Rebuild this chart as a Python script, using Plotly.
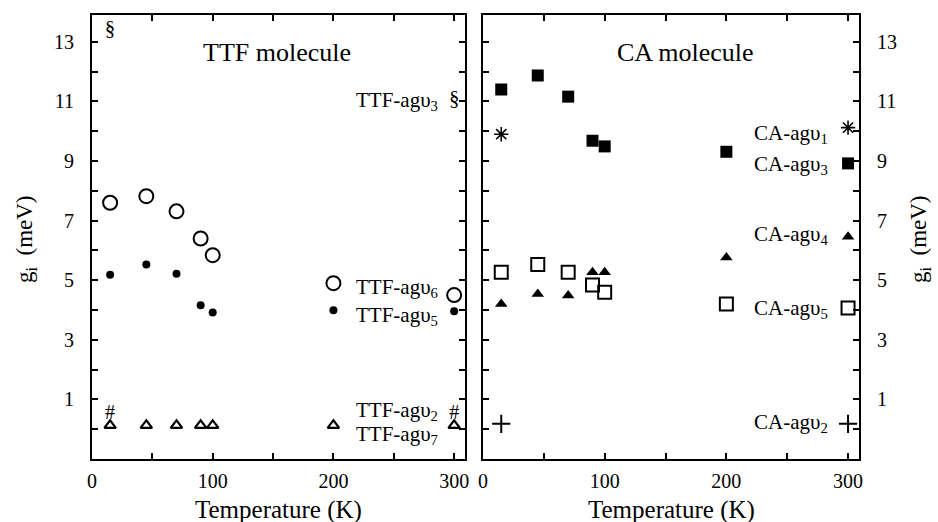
import plotly.graph_objects as go
from plotly.subplots import make_subplots

# ---------------- data ----------------
T = [15, 45, 70, 90, 100, 200, 300]
T_ends = [15, 300]

ttf_v6 = [7.6, 7.82, 7.31, 6.4, 5.84, 4.9, 4.5]
ttf_v5 = [5.18, 5.53, 5.22, 4.16, 3.92, 3.99, 3.96]
ttf_v7 = [0.13, 0.13, 0.13, 0.13, 0.13, 0.13, 0.13]
ttf_v2 = [0.5, 0.5]
ttf_v3 = [13.4, 11.05]

ca_v3 = [11.4, 11.87, 11.16, 9.68, 9.49, 9.31, 8.92]
ca_v1 = [9.9, 10.12]
ca_v4 = [4.2, 4.54, 4.49, 5.27, 5.27, 5.76, 6.46]
ca_v5 = [5.27, 5.53, 5.27, 4.84, 4.6, 4.2, 4.07]
ca_v2 = [0.18, 0.18]

y_major = [1, 3, 5, 7, 9, 11, 13]
y_minor = [0, 2, 4, 6, 8, 10, 12]
x_major = [0, 100, 200, 300]
x_minor = [50, 150, 250]

FONT = "Liberation Serif"
BLACK = "black"

fig = make_subplots(rows=1, cols=2)

def txt(x, y, s, size):
    return go.Scatter(x=x, y=y, mode="text", text=[s] * len(x),
                      textfont=dict(family=FONT, size=size, color=BLACK),
                      textposition="middle center", hoverinfo="skip",
                      showlegend=False)

# ---- TTF panel ----
fig.add_trace(go.Scatter(x=T, y=ttf_v6, mode="markers",
                         marker=dict(symbol="circle-open", size=14, color=BLACK, line=dict(width=2)),
                         showlegend=False), row=1, col=1)
fig.add_trace(go.Scatter(x=T, y=ttf_v5, mode="markers",
                         marker=dict(symbol="circle", size=8, color=BLACK),
                         showlegend=False), row=1, col=1)
fig.add_trace(go.Scatter(x=T, y=ttf_v7, mode="markers",
                         marker=dict(symbol="triangle-up-open", size=10, color=BLACK, line=dict(width=2.2)),
                         showlegend=False), row=1, col=1)
fig.add_trace(txt(T_ends, ttf_v2, "#", 20), row=1, col=1)
fig.add_trace(txt(T_ends, ttf_v3, "§", 21), row=1, col=1)

# ---- CA panel ----
fig.add_trace(go.Scatter(x=T, y=ca_v3, mode="markers",
                         marker=dict(symbol="square", size=12, color=BLACK),
                         showlegend=False), row=1, col=2)
fig.add_trace(go.Scatter(x=T, y=ca_v5, mode="markers",
                         marker=dict(symbol="square-open", size=13, color=BLACK, line=dict(width=2)),
                         showlegend=False), row=1, col=2)
fig.add_trace(go.Scatter(x=T, y=ca_v4, mode="markers",
                         marker=dict(symbol="triangle-up", size=11, color=BLACK),
                         showlegend=False), row=1, col=2)
fig.add_trace(go.Scatter(x=T_ends, y=ca_v2, mode="markers",
                         marker=dict(symbol="cross-thin", size=13, color=BLACK, line=dict(width=2, color=BLACK)),
                         showlegend=False), row=1, col=2)
fig.add_trace(go.Scatter(x=T_ends, y=ca_v1, mode="markers",
                         marker=dict(symbol="asterisk-open", size=12, color=BLACK, line=dict(width=1.6, color=BLACK)),
                         showlegend=False), row=1, col=2)

axis_common = dict(showline=True, linecolor=BLACK, linewidth=2, mirror="ticks",
                   ticks="inside", ticklen=6, tickwidth=2, tickcolor=BLACK,
                   showgrid=False, zeroline=False, automargin=False,
                   tickfont=dict(family=FONT, size=20, color=BLACK))
minor_common = dict(ticks="inside", ticklen=6, tickwidth=2, tickcolor=BLACK, showgrid=False)

fig.update_xaxes(range=[0, 309], tickmode="array", tickvals=x_major,
                 minor=dict(tickmode="array", tickvals=x_minor, **minor_common),
                 ticklabelstandoff=3, **axis_common)
fig.update_yaxes(range=[-1, 13.9], tickmode="array", tickvals=y_major,
                 minor=dict(tickmode="array", tickvals=y_minor, **minor_common),
                 ticklabelstandoff=12, **axis_common)

fig.update_layout(
    xaxis=dict(domain=[92 / 938, 465 / 938]),
    xaxis2=dict(domain=[483 / 938, 859 / 938]),
    yaxis=dict(domain=[1 - 459 / 522, 1 - 15 / 522]),
    yaxis2=dict(domain=[1 - 459 / 522, 1 - 15 / 522], side="right"),
    width=938, height=522,
    margin=dict(l=0, r=0, t=0, b=0, autoexpand=False),
    paper_bgcolor="white", plot_bgcolor="white",
    showlegend=False,
)

ann = []
def a(x, y, s, xref, yref, size=21, xanchor="left"):
    ann.append(dict(x=x, y=y, xref=xref, yref=yref, text=s, showarrow=False,
                    xanchor=xanchor, yanchor="middle",
                    font=dict(family=FONT, size=size, color=BLACK)))

a(153, 12.63, "TTF molecule", "x", "y", size=26, xanchor="center")
a(166, 12.63, "CA molecule", "x2", "y2", size=26, xanchor="center")

a(217, 11.0, "TTF-agυ<sub>3</sub>", "x", "y")
a(217, 4.75, "TTF-agυ<sub>6</sub>", "x", "y")
a(217, 3.8, "TTF-agυ<sub>5</sub>", "x", "y")
a(217, 0.6, "TTF-agυ<sub>2</sub>", "x", "y")
a(217, -0.2, "TTF-agυ<sub>7</sub>", "x", "y")

a(221, 9.9, "CA-agυ<sub>1</sub>", "x2", "y2")
a(221, 8.87, "CA-agυ<sub>3</sub>", "x2", "y2")
a(221, 6.53, "CA-agυ<sub>4</sub>", "x2", "y2")
a(221, 4.03, "CA-agυ<sub>5</sub>", "x2", "y2")
a(221, 0.2, "CA-agυ<sub>2</sub>", "x2", "y2")

# axis titles
for xc in [(92 + 465) / 2 / 938, (483 + 859) / 2 / 938]:
    ann.append(dict(x=xc, y=1 - 510 / 522, xref="paper", yref="paper",
                    text="Temperature (K)", showarrow=False, xanchor="center", yanchor="middle",
                    font=dict(family=FONT, size=25, color=BLACK)))
for xc in [26 / 938, 920 / 938]:
    ann.append(dict(x=xc, y=1 - 239 / 522, xref="paper", yref="paper",
                    text="g<sub>i</sub>  (meV)", showarrow=False, textangle=-90,
                    xanchor="center", yanchor="middle",
                    font=dict(family=FONT, size=23, color=BLACK)))

fig.update_layout(annotations=ann)
fig.write_html("out.html")
